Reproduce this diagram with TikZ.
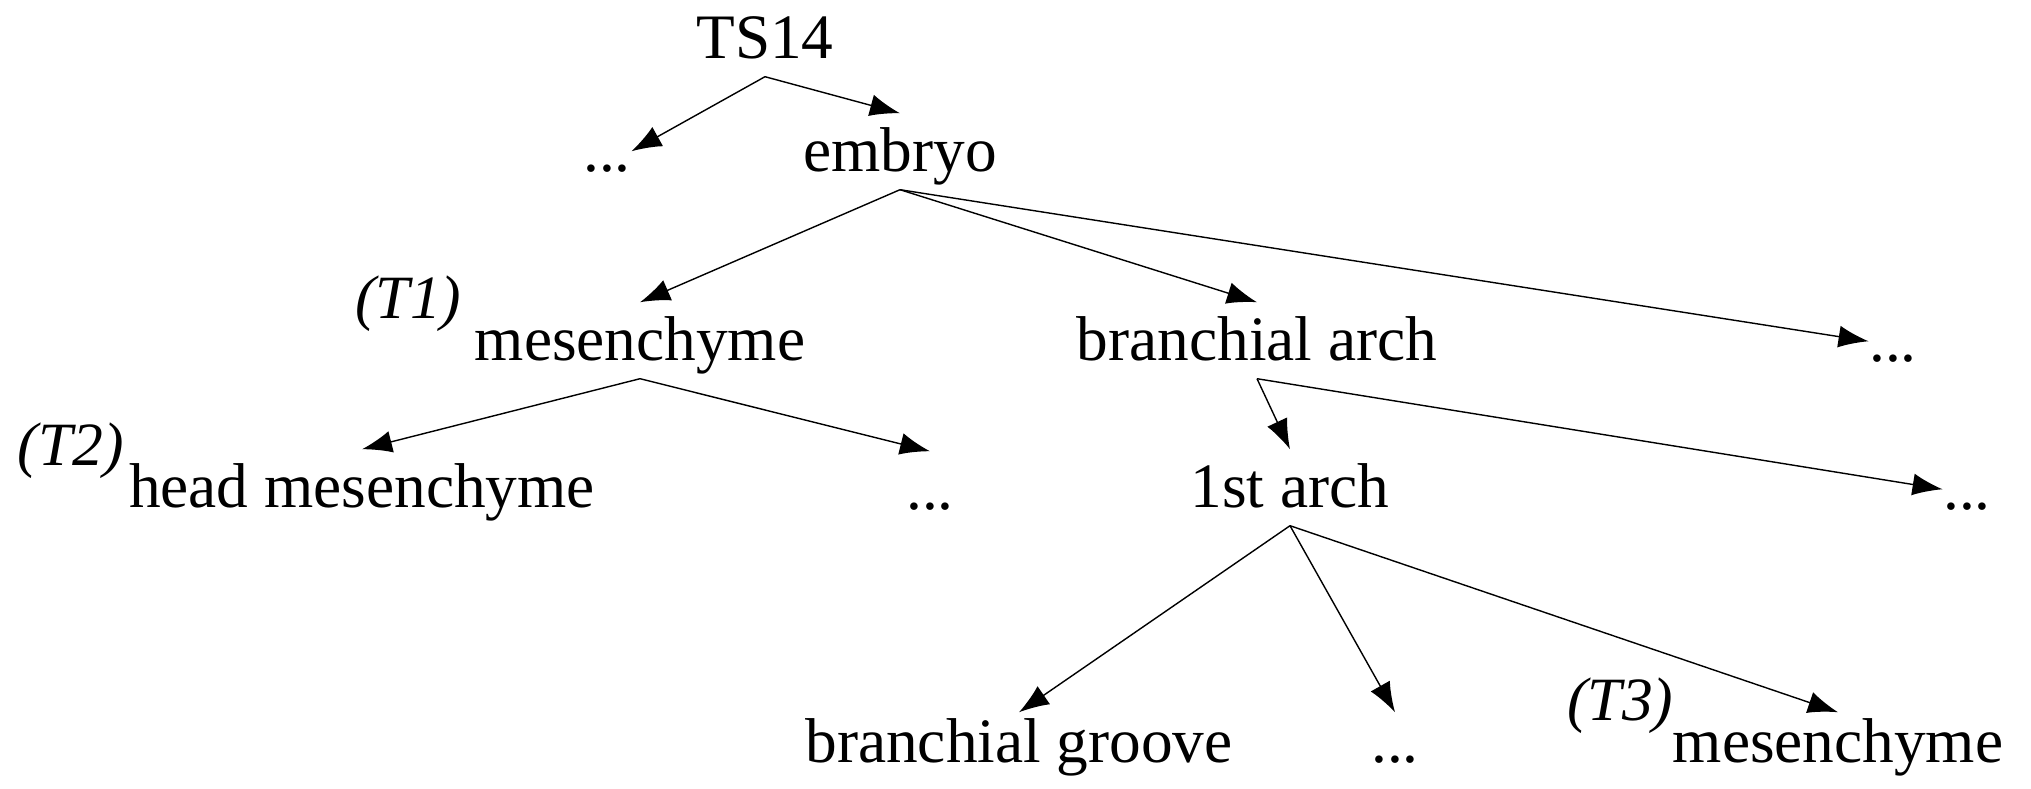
\documentclass[tikz,border=0pt]{standalone}
\usepackage{fontspec}
\setmainfont{Liberation Serif}
\usetikzlibrary{arrows.meta}

\begin{document}
\begin{tikzpicture}[x=0.01cm,y=-0.01cm,>={Latex[length=3mm,width=2.2mm]},thin,
	term/.style={inner sep=0,text height=5.8mm,text depth=1.7mm,anchor=base,
		font=\fontsize{18}{20}\selectfont},
	low/.style={term,text height=5mm},
	stub/.style={term,text height=2mm},
	tag/.style={inner sep=0,anchor=base east,font=\fontsize{17.5}{20}\selectfont\itshape}]
\useasboundingbox (0,0) rectangle (2031,789);

\node[term] (ts) at (765,59) {TS14};
\node[stub] (dotsA) at (607,172) {...};
\node[term] (embryo) at (900,172) {embryo};

\node[term] (mesA) at (640,361) {mesenchyme};
\node[term] (arch) at (1257,361) {branchial arch};
\node[stub] (dotsB) at (1893,362) {...};

\node[term] (headmes) at (362,508) {head mesenchyme};
\node[term] (dotsC) at (930,510) {...};
\node[term] (firstarch) at (1290,508) {1st arch};
\node[stub] (dotsD) at (1967,510) {...};

\node[low] (groove) at (1019,763) {branchial groove};
\node[low] (dotsE) at (1395,763) {...};
\node[low] (mesB) at (1838,763) {mesenchyme};

\node[tag] (tagA) at ([shift={(-12,-42)}]mesA.base west) {(T1)};
\node[tag] (tagB) at ([shift={(-4,-42)}]headmes.base west) {(T2)};
\node[tag] (tagC) at ([shift={(2,-42)}]mesB.base west) {(T3)};

\draw[->] (ts.south) -- (dotsA.north east);
\draw[->] (ts.south) -- (embryo.north);

\draw[->] (embryo.south) -- (mesA.north);
\draw[->] (embryo.south) -- (arch.north);
\draw[->] (embryo.south) -- (dotsB.north west);

\draw[->] (mesA.south) -- (headmes.north);
\draw[->] (mesA.south) -- (dotsC.north);

\draw[->] (arch.south) -- (firstarch.north);
\draw[->] (arch.south) -- (dotsD.north west);

\draw[->] (firstarch.south) -- (groove.north);
\draw[->] (firstarch.south) -- (dotsE.north);
\draw[->] (firstarch.south) -- (mesB.north);

\end{tikzpicture}
\end{document}
